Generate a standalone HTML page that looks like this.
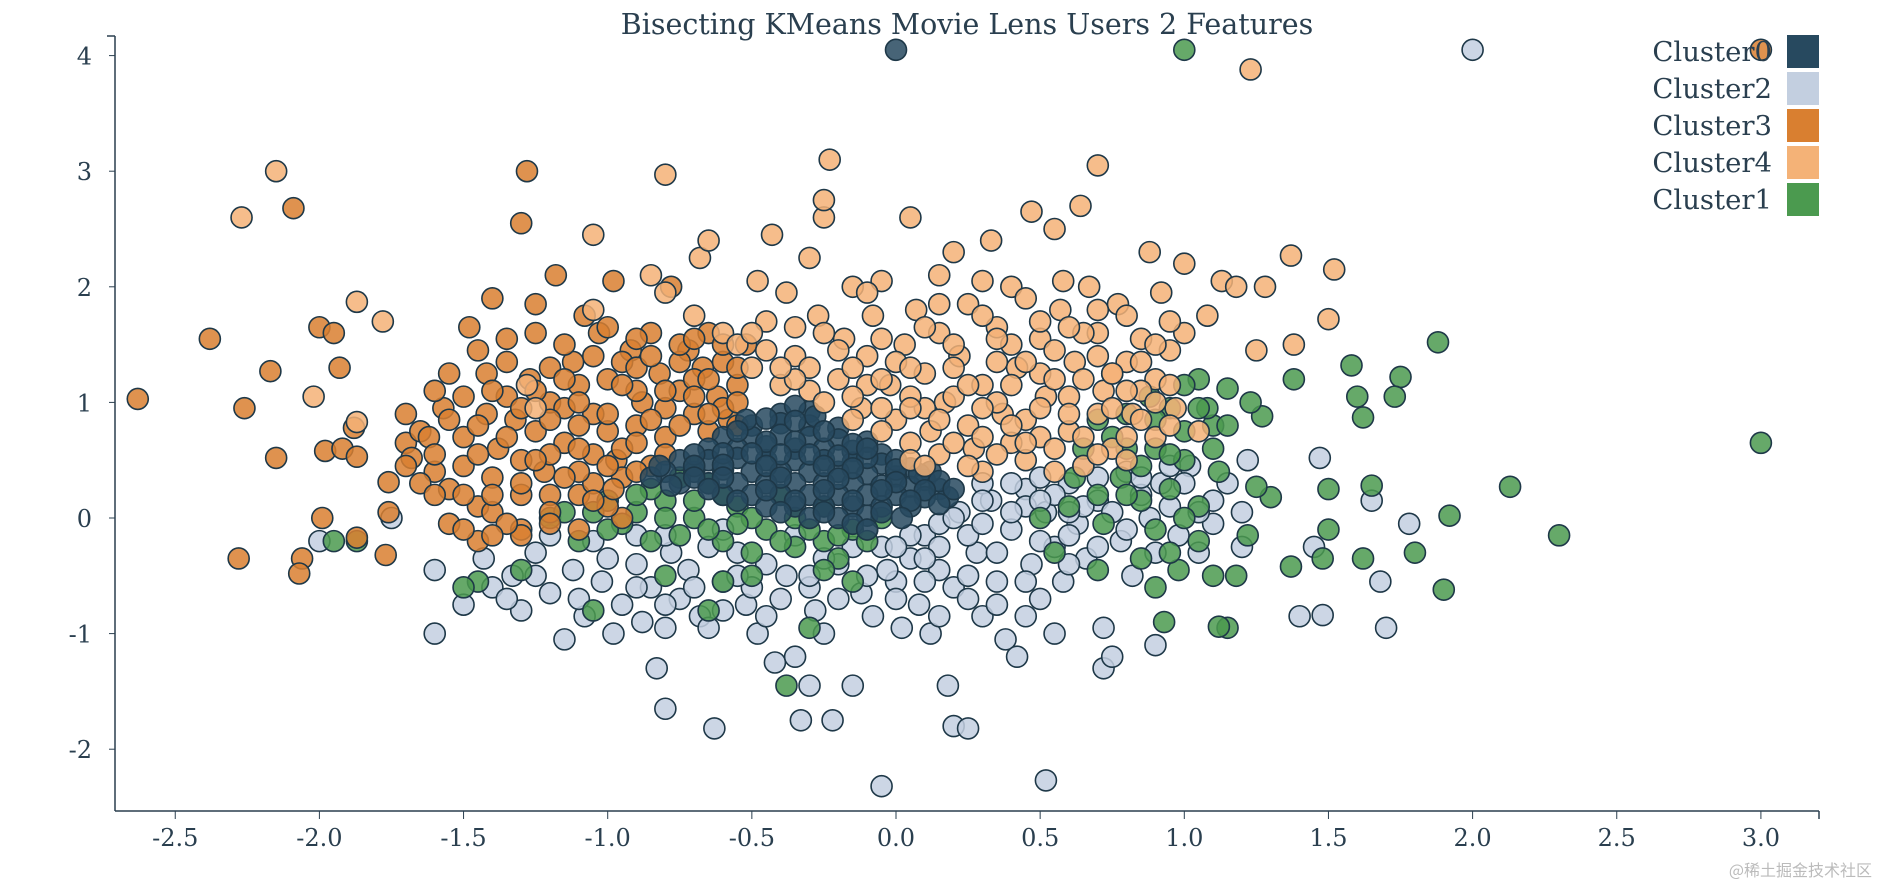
<!DOCTYPE html>
<html><head><meta charset="utf-8"><style>
body{margin:0;background:#fff;}
svg text{font-family:"DejaVu Serif","Liberation Serif",serif;fill:#2a3f4f;}
</style></head><body>
<svg id="chart" width="1878" height="884" xmlns="http://www.w3.org/2000/svg"></svg>
<script>
const xTicks=[-2.5,-2.0,-1.5,-1.0,-0.5,0.0,0.5,1.0,1.5,2.0,2.5,3.0];
const yTicks=[-2,-1,0,1,2,3,4];
const clusterNames=["Cluster0","Cluster2","Cluster3","Cluster4","Cluster1"];
const cluster0=[[0.0,4.05],[-0.4,0.9],[-0.3,0.92],[-0.35,0.97],[-0.5,0.8],[-0.4,0.82],[-0.3,0.8],[-0.2,0.78],[-0.6,0.7],[-0.5,0.7],[-0.4,0.72],[-0.3,0.7],[-0.2,0.68],[-0.1,0.66],[-0.65,0.6],[-0.55,0.6],[-0.45,0.62],[-0.35,0.6],[-0.25,0.6],[-0.15,0.58],[-0.05,0.55],[-0.75,0.5],[-0.65,0.5],[-0.55,0.52],[-0.45,0.5],[-0.35,0.5],[-0.25,0.5],[-0.15,0.48],[-0.05,0.47],[0.05,0.43],[-0.8,0.4],[-0.7,0.4],[-0.6,0.42],[-0.5,0.4],[-0.4,0.4],[-0.3,0.4],[-0.2,0.4],[-0.1,0.38],[0.0,0.36],[0.1,0.33],[-0.75,0.3],[-0.65,0.3],[-0.55,0.3],[-0.45,0.3],[-0.35,0.3],[-0.25,0.3],[-0.15,0.3],[-0.05,0.28],[0.05,0.27],[0.15,0.25],[-0.6,0.2],[-0.5,0.2],[-0.4,0.2],[-0.3,0.2],[-0.2,0.2],[-0.1,0.2],[0.0,0.2],[0.1,0.18],[0.18,0.18],[-0.45,0.1],[-0.35,0.1],[-0.25,0.1],[-0.15,0.1],[-0.05,0.1],[0.05,0.1],[-0.3,0.0],[-0.2,0.0],[-0.1,0.02],[-0.52,0.85],[-0.28,0.88],[-0.7,0.55],[-0.1,0.52],[0.12,0.4],[-0.85,0.35],
[-0.45,0.86],[-0.35,0.84],[-0.25,0.75],[-0.55,0.75],[-0.45,0.66],[-0.35,0.66],[-0.15,0.64],[-0.6,0.56],[-0.5,0.56],[-0.4,0.55],[-0.3,0.55],[-0.2,0.54],[-0.1,0.6],[0.0,0.5],[-0.7,0.45],[-0.6,0.46],[-0.45,0.45],[-0.25,0.45],[-0.15,0.43],[0.0,0.42],[0.08,0.38],[-0.7,0.35],[-0.6,0.35],[-0.4,0.35],[-0.2,0.34],[0.0,0.31],[0.15,0.32],[0.2,0.25],[-0.65,0.25],[-0.45,0.24],[-0.25,0.24],[-0.05,0.24],[0.1,0.24],[-0.55,0.15],[-0.35,0.15],[-0.15,0.15],[0.05,0.15],[0.15,0.12],[-0.4,0.05],[-0.25,0.05],[-0.05,0.05],[0.02,0.0],[-0.15,-0.05],[-0.1,-0.1],[-0.78,0.28],[-0.82,0.45]];
const cluster2=[[2.0,4.05],[-0.05,-2.32],[0.52,-2.27],[-1.6,-0.45],[-1.6,-1.0],[-1.5,-0.75],[-1.43,-0.35],[-1.4,-0.6],[-1.33,-0.5],[-1.3,-0.8],[-1.25,-0.3],[-1.2,-0.65],[-1.15,-1.05],[-1.12,-0.45],[-1.08,-0.85],[-1.05,-0.2],[-1.02,-0.55],[-0.98,-1.0],[-0.95,-0.75],[-0.9,-0.4],[-0.88,-0.9],[-0.85,-0.6],[-0.8,-0.95],[-0.78,-0.3],[-0.75,-0.7],[-0.83,-1.3],[-0.8,-1.65],[-0.72,-0.45],[-0.68,-0.85],[-0.63,-1.82],[-0.6,-0.55],[-0.55,-0.3],[-0.52,-0.75],[-0.48,-1.0],[-0.42,-1.25],[-0.38,-0.5],[-0.35,-1.2],[-0.33,-1.75],[-0.3,-1.45],[-0.28,-0.8],[-0.22,-1.75],[-0.2,-0.4],[-0.15,-1.45],[-0.12,-0.65],[-0.08,-0.85],[-0.05,-0.25],[0.0,-0.55],[0.02,-0.95],[0.05,-0.35],[0.08,-0.75],[0.1,-0.15],[0.12,-1.0],[0.15,-0.45],[0.18,-1.45],[0.2,-0.6],[0.2,-1.8],[0.25,-1.82],[0.22,0.05],[0.28,-0.3],[0.3,-0.85],[0.33,0.15],[0.35,-0.55],[0.38,-1.05],[0.4,-0.1],[0.42,-1.2],[0.45,0.25],[0.47,-0.4],[0.5,-0.7],[0.52,0.05],[0.55,-0.25],[0.58,-0.55],[0.6,0.3],[0.63,-0.05],[0.66,-0.35],[0.7,0.15],[0.72,-0.95],[0.72,-1.3],[0.75,-1.2],[0.78,-0.2],[0.8,0.4],[0.82,-0.5],[0.88,0.0],[0.9,-1.1],[0.92,0.3],[0.98,-0.15],[1.02,0.45],[1.05,-0.3],[1.1,0.15],[1.2,-0.25],[1.22,0.5],[1.4,-0.85],[1.45,-0.25],[1.47,0.52],[1.48,-0.84],[1.65,0.15],[1.68,-0.55],[1.7,-0.95],[1.78,-0.05],[-0.03,-0.45],[-0.25,-0.35],[-0.45,-0.4],[-0.65,-0.25],[0.25,-0.15],[0.15,-0.05],[0.35,-0.3],[0.6,-0.15],[0.75,0.05],[0.85,0.2],[0.45,0.1],[-0.1,-0.1],[0.05,-0.15],[-0.9,-0.15],[-1.2,-0.15],[-0.4,-0.7],[0.3,0.3],[0.5,0.35],[0.65,0.45],[0.95,0.1],[1.1,-0.05],[-1.75,0.0],[-2.0,-0.2],
[-1.0,-0.35],[-0.9,-0.6],[-0.7,-0.6],[-0.6,-0.8],[-0.5,-0.6],[-0.45,-0.85],[-0.3,-0.6],[-0.2,-0.7],[-0.1,-0.5],[0.0,-0.7],[0.1,-0.55],[0.15,-0.85],[0.25,-0.5],[0.3,-0.05],[0.35,-0.75],[0.4,0.05],[0.45,-0.55],[0.5,-0.2],[0.55,0.2],[0.6,-0.4],[0.65,0.1],[0.7,-0.25],[0.8,-0.1],[0.85,0.35],[0.9,-0.3],[0.95,0.45],[1.0,0.3],[1.05,0.05],[0.2,0.0],[0.3,0.15],[0.4,0.3],[0.5,0.15],[0.6,0.05],[0.7,0.35],[0.15,-0.25],[-0.3,-0.5],[-0.55,-0.5],[-0.8,-0.75],[-1.1,-0.7],[-1.25,-0.5],[-1.35,-0.7],[-0.65,-0.95],[-0.25,-1.0],[0.0,-0.25],[0.1,-0.35],[0.25,-0.7],[0.45,-0.85],[1.15,0.3],[1.2,0.05],[0.55,-1.0],[-0.15,-0.25],[-0.35,-0.15],[-0.6,-0.1],[-0.8,-0.15]];
const cluster3=[[3.0,4.05],[-2.63,1.03],[-2.38,1.55],[-2.26,0.95],[-2.17,1.27],[-2.15,0.52],[-2.09,2.68],[-2.0,1.65],[-1.95,1.6],[-1.93,1.3],[-1.98,0.58],[-1.92,0.6],[-2.28,-0.35],[-2.06,-0.35],[-2.07,-0.48],[-1.99,0.0],[-1.87,-0.17],[-1.87,0.53],[-1.88,0.78],[-1.76,0.31],[-1.76,0.05],[-1.77,-0.32],[-1.7,0.65],[-1.68,0.52],[-1.65,0.75],[-1.6,0.4],[-1.57,0.95],[-1.55,0.25],[-1.5,0.7],[-1.48,1.65],[-1.45,0.1],[-1.45,-0.2],[-1.42,1.25],[-1.4,1.9],[-1.38,0.6],[-1.35,1.55],[-1.32,0.85],[-1.3,-0.1],[-1.27,1.2],[-1.25,1.85],[-1.22,0.4],[-1.2,1.0],[-1.18,2.1],[-1.15,0.65],[-1.12,1.35],[-1.1,0.2],[-1.05,0.9],[-1.03,1.6],[-1.0,1.2],[-0.98,2.05],[-0.97,0.5],[-0.95,0.0],[-0.92,1.45],[-0.9,0.8],[-0.88,1.0],[-0.85,1.6],[-0.82,1.25],[-0.8,0.7],[-0.78,2.0],[-0.75,1.1],[-0.72,1.45],[-0.7,0.9],[-0.67,1.3],[-0.65,1.6],[-0.62,1.05],[-0.6,1.35],[-0.58,0.85],[-0.55,1.15],[-0.52,1.5],[-1.3,2.55],[-1.28,3.0],[-1.7,0.9],[-1.6,1.1],[-1.55,1.25],[-1.45,1.45],[-1.35,1.05],[-1.5,0.45],[-1.4,0.35],[-1.3,0.5],[-1.25,0.75],[-1.15,0.95],[-1.1,1.15],[-1.05,0.55],[-1.0,0.75],[-0.95,1.35],[-0.9,1.1],[-0.85,0.45],[-0.8,0.95],[-0.75,1.35],[-0.7,1.2],[-0.65,0.75],[-1.2,1.3],[-1.15,1.5],[-1.35,0.7],[-1.42,0.9],[-1.5,1.05],[-1.62,0.7],[-1.2,0.2],[-1.3,0.2],[-1.4,0.05],[-1.05,0.3],[-0.95,0.35],[-1.1,-0.1],[-1.3,-0.15],[-1.55,-0.05],[-1.0,1.65],[-0.9,1.55],[-1.08,1.75],[-1.25,1.6],[-0.6,0.95],[-0.55,0.8],[-1.45,0.55],[-1.2,0.55],[-1.1,0.4],[-1.0,0.1],
[-1.45,0.8],[-1.4,1.1],[-1.35,1.35],[-1.3,0.95],[-1.3,0.3],[-1.25,1.1],[-1.25,0.5],[-1.2,0.85],[-1.2,0.05],[-1.15,1.2],[-1.15,0.35],[-1.1,1.0],[-1.1,0.6],[-1.05,1.4],[-1.05,0.15],[-1.0,0.9],[-1.0,0.45],[-0.95,1.15],[-0.95,0.6],[-0.9,1.3],[-0.9,0.65],[-0.85,1.4],[-0.85,0.85],[-0.8,1.1],[-0.8,0.55],[-0.75,1.5],[-0.75,0.8],[-0.7,1.05],[-0.7,1.55],[-0.65,1.2],[-0.65,0.9],[-0.6,1.5],[-0.55,1.3],[-0.55,1.0],[-1.6,0.55],[-1.55,0.85],[-1.65,0.3],[-1.5,0.2],[-1.4,0.2],[-1.35,-0.05],[-1.2,-0.05],[-1.1,0.8],[-0.98,0.25],[-0.9,0.4],[-1.6,0.2],[-1.7,0.45],[-1.5,-0.1],[-1.4,-0.15]];
const cluster4=[[-2.15,3.0],[-2.27,2.6],[-1.87,1.87],[-1.78,1.7],[-2.02,1.05],[-1.87,0.83],[-1.28,1.15],[-1.25,0.95],[-1.05,1.8],[-1.05,2.45],[-0.85,2.1],[-0.8,1.95],[-0.8,2.97],[-0.7,1.75],[-0.68,2.25],[-0.65,2.4],[-0.6,1.6],[-0.55,1.5],[-0.5,1.3],[-0.48,2.05],[-0.45,1.7],[-0.43,2.45],[-0.4,1.15],[-0.38,1.95],[-0.35,1.4],[-0.3,2.25],[-0.27,1.75],[-0.25,2.6],[-0.23,3.1],[-0.25,2.75],[-0.2,1.2],[-0.18,1.55],[-0.15,2.0],[-0.12,0.95],[-0.1,1.4],[-0.08,1.75],[-0.05,2.05],[-0.02,1.15],[0.0,0.85],[0.03,1.5],[0.05,2.6],[0.07,1.8],[0.1,1.25],[0.12,0.75],[0.15,1.6],[0.17,1.0],[0.2,2.3],[0.22,1.4],[0.25,1.85],[0.27,0.6],[0.3,1.15],[0.33,2.4],[0.35,1.65],[0.37,0.9],[0.4,2.0],[0.42,1.3],[0.45,0.5],[0.47,2.65],[0.5,1.55],[0.52,1.05],[0.55,2.5],[0.57,1.8],[0.6,0.75],[0.62,1.35],[0.64,2.7],[0.67,2.0],[0.7,1.6],[0.7,3.05],[0.72,1.1],[0.75,0.6],[0.77,1.85],[0.8,1.35],[0.82,0.9],[0.85,1.55],[0.88,2.3],[0.9,1.2],[0.92,1.95],[0.95,1.45],[0.97,0.95],[1.0,1.6],[1.0,2.2],[1.08,1.75],[1.13,2.05],[1.18,2.0],[1.25,1.45],[1.28,2.0],[1.37,2.27],[1.38,1.5],[1.52,2.15],[1.5,1.72],[1.23,3.88],[0.3,0.4],[0.15,0.55],[0.05,0.65],[-0.05,0.95],[0.4,0.65],[0.55,0.4],[0.65,0.45],[0.8,0.5],[0.9,0.7],[0.25,0.8],[0.45,0.85],[0.6,1.05],[0.75,1.25],[0.2,1.05],[0.35,1.35],[0.5,1.25],[0.65,1.6],[0.8,1.75],[-0.3,1.1],[-0.45,1.45],[-0.2,1.45],[0.0,1.35],[0.1,1.65],[0.3,1.75],[0.45,1.9],[0.58,2.05],[-0.1,1.95],[0.15,2.1],[0.3,2.05],[0.4,1.5],[0.95,0.8],[1.05,0.75],[-0.15,0.85],[0.1,0.95],[0.35,1.0],[0.5,0.7],[0.7,0.9],[0.85,1.1],[-0.3,1.3],[-0.1,1.15],[0.2,1.3],[0.55,1.45],[0.75,1.25],
[-0.35,1.2],[-0.25,1.0],[-0.15,1.05],[-0.05,0.75],[0.05,1.05],[0.05,0.5],[0.1,0.45],[0.2,0.65],[0.25,0.45],[0.25,1.15],[0.3,0.95],[0.35,0.55],[0.4,0.8],[0.4,1.15],[0.45,0.65],[0.5,0.95],[0.55,0.6],[0.55,1.2],[0.6,0.9],[0.65,0.7],[0.65,1.2],[0.7,0.55],[0.7,1.4],[0.75,0.95],[0.8,0.7],[0.8,1.1],[0.85,0.85],[0.85,1.35],[0.9,1.0],[0.9,1.5],[0.95,1.15],[0.95,1.7],[0.5,1.7],[0.35,1.55],[0.2,1.5],[0.05,1.3],[-0.05,1.55],[-0.15,1.3],[-0.25,1.6],[-0.35,1.65],[-0.4,1.3],[-0.5,1.6],[0.15,1.85],[0.6,1.65],[0.7,1.8],[0.45,1.35],[0.05,0.95],[-0.05,1.2],[0.15,0.85],[0.3,0.7]];
const cluster1=[[1.0,4.05],[3.0,0.65],[2.3,-0.15],[2.13,0.27],[1.92,0.02],[1.9,-0.62],[1.88,1.52],[1.75,1.22],[1.73,1.05],[1.8,-0.3],[1.62,-0.35],[1.65,0.28],[1.6,1.05],[1.58,1.32],[1.62,0.87],[1.5,0.25],[1.5,-0.1],[1.48,-0.35],[1.38,1.2],[1.37,-0.42],[1.3,0.18],[1.25,0.27],[1.22,-0.15],[1.15,-0.95],[1.12,-0.94],[1.18,-0.5],[1.27,0.88],[1.23,1.0],[1.15,1.12],[1.1,0.8],[1.05,1.2],[1.0,1.15],[0.95,0.95],[0.98,-0.45],[0.9,-0.6],[0.93,-0.9],[0.95,-0.3],[1.0,0.5],[1.05,0.1],[0.9,0.6],[0.85,0.15],[0.8,0.9],[0.78,0.35],[0.72,-0.05],[0.7,-0.45],[0.65,0.6],[0.6,0.1],[0.55,-0.3],[0.5,0.0],[-0.05,0.0],[-0.15,-0.1],[-0.25,-0.2],[-0.35,0.0],[-0.45,-0.1],[-0.55,0.1],[-0.6,-0.2],[-0.7,0.0],[-0.75,-0.15],[-0.8,0.15],[-0.85,0.25],[-0.9,0.05],[-0.95,-0.05],[-1.0,0.15],[-1.05,0.05],[-1.1,-0.2],[-1.2,0.0],[-1.3,-0.45],[-1.45,-0.55],[-1.5,-0.6],[-1.95,-0.2],[-1.87,-0.2],[-0.6,-0.55],[-0.5,-0.5],[-0.35,-0.25],[-0.2,-0.35],[-0.3,-0.95],[-0.38,-1.45],[-0.65,-0.8],[-1.05,-0.8],[-0.8,-0.5],[-0.25,0.1],[-0.4,0.2],[-0.65,0.3],[-0.7,0.45],[-0.5,0.0],[-0.15,-0.55],[0.7,0.85],[0.88,1.05],[1.0,0.0],[0.95,0.25],[0.8,0.6],[1.08,0.95],[1.12,0.4],[0.62,0.35],
[-0.1,-0.2],[-0.3,-0.1],[-0.4,-0.2],[-0.55,-0.05],[-0.65,-0.1],[-0.7,0.15],[-0.8,0.0],[-0.85,-0.2],[-0.9,0.2],[-1.0,-0.1],[-1.15,0.05],[-0.2,-0.15],[-0.6,0.2],[-0.75,0.35],[0.75,0.7],[0.85,0.45],[0.9,0.85],[1.0,0.75],[1.05,0.95],[1.1,0.6],[1.15,0.8],[0.95,0.55],[0.8,0.2],[0.7,0.2],[0.9,-0.1],[1.05,-0.2],[1.1,-0.5],[0.85,-0.35],[-0.5,-0.3],[-0.25,-0.45]];

const svg=document.getElementById('chart');
const NS='http://www.w3.org/2000/svg';
const X0=115,X1=1819,Y0=811,Y1=36;
const sx=v=>896+(v-0)*288.3;
const sy=v=>518-v*115.6;
function mk(tag,attrs,parent){const e=document.createElementNS(NS,tag);for(const k in attrs)e.setAttribute(k,attrs[k]);(parent||svg).appendChild(e);return e;}

const title=mk('text',{x:967,y:34,'text-anchor':'middle','font-size':28.5});
title.textContent='Bisecting KMeans Movie Lens Users 2 Features';



const axes=mk('g',{});


mk('line',{x1:X0,y1:Y0,x2:X1,y2:Y0,stroke:'#2a3f4f','stroke-width':1.5},axes);
mk('line',{x1:X0,y1:Y0,x2:X0,y2:Y1,stroke:'#2a3f4f','stroke-width':1.5},axes);
mk('line',{x1:X1,y1:Y0,x2:X1,y2:Y0+8,stroke:'#2a3f4f','stroke-width':1.5},axes);
mk('line',{x1:X0,y1:Y1,x2:X0-8,y2:Y1,stroke:'#2a3f4f','stroke-width':1.5},axes);
xTicks.forEach(t=>{
  const x=sx(t);
  mk('line',{x1:x,y1:Y0,x2:x,y2:Y0+8,stroke:'#2a3f4f'},axes);
  const lb=mk('text',{x:x,y:846,'text-anchor':'middle','font-size':24},axes);
  lb.textContent=t.toFixed(1);
  
  
});
yTicks.forEach(t=>{
  const y=sy(t);
  mk('line',{x1:X0,y1:y,x2:X0-6,y2:y,stroke:'#2a3f4f'},axes);
  const lb=mk('text',{x:92,y:y+9,'text-anchor':'end','font-size':24},axes);
  lb.textContent=String(t);
  
  
});

const colors={Cluster0:'#27495f',Cluster2:'#c3cfe0',Cluster3:'#d97f30',Cluster4:'#f4b277',Cluster1:'#4b9a4f'};
const drawOrder=[["Cluster2",cluster2],["Cluster1",cluster1],["Cluster3",cluster3],["Cluster0",cluster0],["Cluster4",cluster4]];
drawOrder.forEach(([name,pts])=>{
  const g=mk('g',{});
  
  
  pts.forEach(p=>{
    const c=mk('circle',{cx:sx(p[0]),cy:sy(p[1]),r:10.5,fill:colors[name],'fill-opacity':0.85,stroke:'#1e3848','stroke-width':1.6},g);
    
    
  });
});

const leg=mk('g',{});


clusterNames.forEach((n,i)=>{
  const y=35+i*37;
  const r=mk('rect',{x:1787,y:y,width:32,height:33,fill:colors[n]},leg);
  
  
  const t=mk('text',{x:1772,y:y+26,'text-anchor':'end','font-size':27.5},leg);
  t.textContent=n;
  
  
});
const wm=mk('text',{x:1872,y:876,'text-anchor':'end','font-size':16,style:'fill:#bbb;font-family:"Noto Sans CJK SC",sans-serif'});
wm.textContent='@稀土掘金技术社区';


</script>
</body></html>
